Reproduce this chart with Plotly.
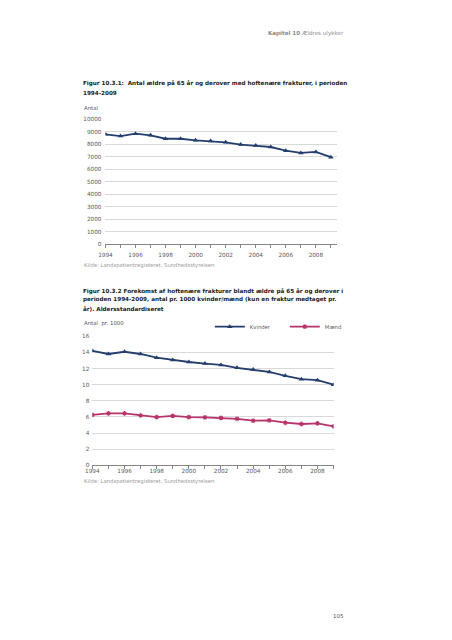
import plotly.graph_objects as go

years = list(range(1994, 2010))
antal = [8790, 8650, 8840, 8710, 8440, 8440, 8310, 8260, 8150, 7970, 7890, 7780, 7490, 7310, 7390, 6970]
kvinder = [14.2, 13.8, 14.08, 13.8, 13.34, 13.06, 12.81, 12.61, 12.44, 12.08, 11.87, 11.58, 11.09, 10.68, 10.56, 9.99]
maend = [6.26, 6.43, 6.43, 6.18, 5.98, 6.14, 5.98, 5.94, 5.89, 5.77, 5.53, 5.57, 5.28, 5.12, 5.2, 4.83]
tick_years = [1994, 1996, 1998, 2000, 2002, 2004, 2006, 2008]
tick_labels = ["1994", "1996", "1998", "2000", "2002", "2004", "2006", "2008"]

W, H = 452, 640
NAVY = "#243f6e"
MAG = "#b8336a"
FONT = "DejaVu Sans"

def px(x):
    return x / W

def py(y):
    return 1 - y / H

fig = go.Figure()
fig.add_trace(go.Scatter(x=years, y=antal, mode="lines+markers", xaxis="x", yaxis="y",
                         line=dict(color=NAVY, width=1.8),
                         marker=dict(symbol="triangle-up", size=5, color=NAVY),
                         showlegend=False))
fig.add_trace(go.Scatter(x=years, y=kvinder, mode="lines+markers", xaxis="x2", yaxis="y2",
                         name="Kvinder", line=dict(color=NAVY, width=1.8),
                         marker=dict(symbol="triangle-up", size=5, color=NAVY)))
fig.add_trace(go.Scatter(x=years, y=maend, mode="lines+markers", xaxis="x2", yaxis="y2",
                         name="Mænd", line=dict(color=MAG, width=1.8),
                         marker=dict(symbol="asterisk-open", size=4, color=MAG,
                                     line=dict(color=MAG, width=1.1))))

tickfont = dict(family=FONT, size=5.7, color="#595959")
xcommon = dict(tickmode="array", tickvals=tick_years, ticktext=tick_labels,
               ticks="outside", ticklen=3, tickcolor="#868686", tickwidth=0.8,
               showline=True, linecolor="#868686", linewidth=1, showgrid=False,
               zeroline=False, tickfont=tickfont,
               minor=dict(tickmode="linear", tick0=1994, dtick=1, ticks="outside",
                          ticklen=3, tickcolor="#868686", tickwidth=0.8, showgrid=False))
ycommon = dict(showgrid=True, gridcolor="#d9d9d9", gridwidth=0.7, zeroline=False,
               showline=False, ticks="", tickfont=tickfont, tickformat="d")

fig.update_layout(
    width=W, height=H, margin=dict(l=0, r=0, t=0, b=0),
    paper_bgcolor="white", plot_bgcolor="white", hovermode=False,
    xaxis=dict(domain=[px(100), px(335)], range=[1994, 1994 + 15 * 235 / 229],
               anchor="y", ticklabelstandoff=2, **xcommon),
    yaxis=dict(domain=[py(243.7), py(117.3)], range=[0, 10000], dtick=1000,
               anchor="x", ticklabelstandoff=3, **ycommon),
    xaxis2=dict(domain=[px(86.7), px(331.7)], range=[1994, 2009],
                anchor="y2", ticklabelstandoff=-3, **xcommon),
    yaxis2=dict(domain=[py(466.7), py(336.4)], range=[0, 16], dtick=2,
                anchor="x2", ticklabelstandoff=2, **ycommon),
    legend=dict(orientation="h", x=px(206), xanchor="left", y=py(326.7), yanchor="middle",
                font=dict(family=FONT, size=5.3, color="#595959"),
                bgcolor="rgba(0,0,0,0)", itemwidth=30, entrywidth=30,
                tracegroupgap=0),
)

def text(x, y, s, size=5.6, color="#1a1a1a", anchor="left"):
    fig.add_annotation(x=px(x), y=py(y), xref="paper", yref="paper", text=s,
                       showarrow=False, xanchor=anchor, yanchor="middle",
                       font=dict(family=FONT, size=size, color=color),
                       align="left")

TS = 5.65
text(344, 30.7, "<b>Kapitel 10</b> Ældres ulykker", size=5.6, color="#8c8c8c", anchor="right")
text(75, 81, "<b>Figur 10.3.1:  Antal ældre på 65 år og derover med hoftenære frakturer, i perioden</b>", size=TS)
text(75, 90.7, "<b>1994-2009</b>", size=TS)
text(76, 105.7, "Antal", size=5.4, color="#595959")
text(76, 265, "Kilde: Landspatientregisteret, Sundhedsstyrelsen", size=5.3, color="#9a9a9a")
text(75, 290.5, "<b>Figur 10.3.2 Forekomst af hoftenære frakturer blandt ældre på 65 år og derover i</b>", size=TS)
text(75, 299.7, "<b>perioden 1994-2009, antal pr. 1000 kvinder/mænd (kun en fraktur medtaget pr.</b>", size=TS)
text(75, 308.6, "<b>år). Aldersstandardiseret</b>", size=TS)
text(76, 324, "Antal  pr. 1000", size=5.4, color="#595959")
text(76, 483.3, "Kilde: Landspatientregisteret, Sundhedsstyrelsen", size=5.3, color="#9a9a9a")
text(344, 619, "105", size=5.5, color="#595959", anchor="right")

fig.write_html("out.html", post_script="document.body.style.margin='0';",
               config={"displayModeBar": False})
